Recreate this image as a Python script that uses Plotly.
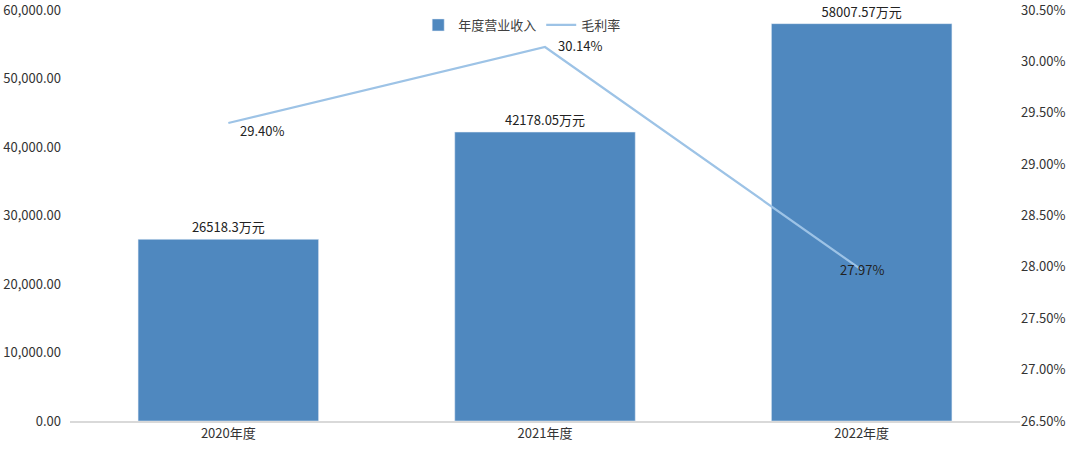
import plotly.graph_objects as go

# 数据
years = ["2020年度", "2021年度", "2022年度"]
revenue = [26518.3, 42178.05, 58007.57]   # 年度营业收入（万元）
margin = [29.40, 30.14, 27.97]            # 毛利率（%）

bar_color = "#4F88BF"
line_color = "#9DC3E6"
font_family = "Noto Sans CJK SC"

fig = go.Figure()

fig.add_trace(go.Bar(
    x=years,
    y=revenue,
    name="年度营业收入",
    marker=dict(color=bar_color),
    text=[f"{v}万元" for v in revenue],
    textposition="outside",
    textfont=dict(size=13, color="#222222"),
    cliponaxis=False,
))

fig.add_trace(go.Scatter(
    x=years,
    y=margin,
    name="毛利率",
    yaxis="y2",
    mode="lines",
    line=dict(color=line_color, width=2.2),
    cliponaxis=False,
))

# 毛利率数据标签（位置微调）
label_pos = [("left", 10, -7), ("left", 11, 1), ("center", 0, 0)]
for yr, m, (anchor, dx, dy) in zip(years, margin, label_pos):
    fig.add_annotation(
        x=yr, y=m, xref="x", yref="y2",
        text=f"{m:.2f}%", showarrow=False,
        xanchor=anchor, yanchor="middle",
        xshift=dx, yshift=dy,
        font=dict(size=13, color="#222222"),
    )

fig.update_layout(
    width=1080,
    height=457,
    margin=dict(l=70, r=60, t=10, b=36, autoexpand=False),
    paper_bgcolor="white",
    plot_bgcolor="white",
    font=dict(family=font_family, size=13, color="#333333"),
    bargap=0.43,
    showlegend=True,
    legend=dict(
        orientation="h",
        x=0.476, xanchor="center",
        y=1.0, yanchor="top",
        font=dict(size=13, color="#404040"),
        bgcolor="rgba(0,0,0,0)",
        traceorder="normal",
        itemwidth=30,
    ),
    xaxis=dict(
        showgrid=False,
        showline=True,
        linecolor="#D9D9D9",
        linewidth=1.5,
        ticks="",
        automargin=False,
        tickfont=dict(size=13, color="#333333"),
    ),
    yaxis=dict(
        range=[0, 60000],
        dtick=10000,
        tickformat=",.2f",
        showgrid=False,
        zeroline=False,
        showline=False,
        ticks="",
        automargin=False,
        ticklabelstandoff=8,
        ticklabeloverflow="allow",
        tickfont=dict(size=13, color="#333333"),
    ),
    yaxis2=dict(
        overlaying="y",
        side="right",
        range=[26.5, 30.5],
        dtick=0.5,
        tickformat=".2f",
        ticksuffix="%",
        showgrid=False,
        zeroline=False,
        showline=False,
        ticks="",
        automargin=False,
        ticklabeloverflow="allow",
        tickfont=dict(size=13, color="#333333"),
    ),
)

fig.write_html(
    "out.html",
    config={"displayModeBar": False},
    post_script="document.body.style.margin='0';",
)
